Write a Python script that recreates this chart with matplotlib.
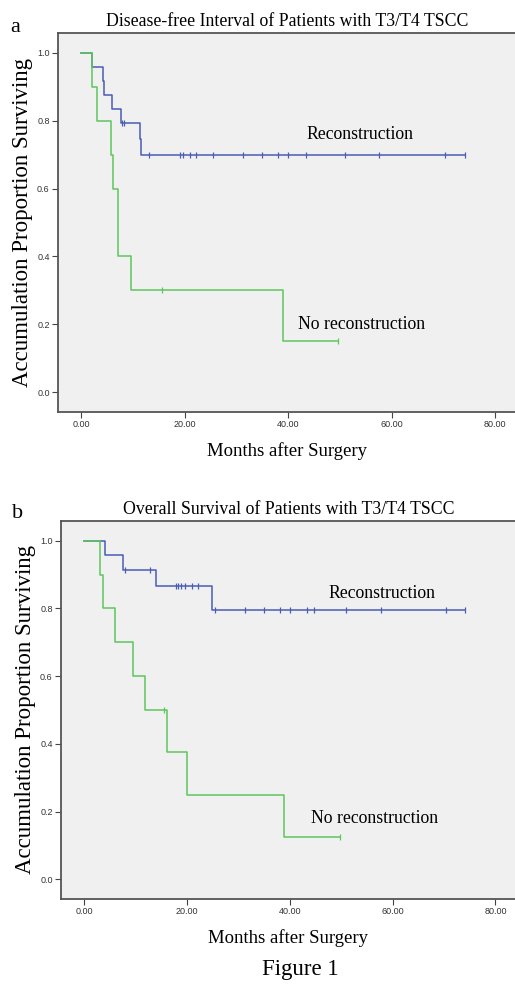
import matplotlib
matplotlib.use("Agg")
import matplotlib.pyplot as plt
import numpy as np

# ---- data (months, proportion surviving) ----
# panel a: disease-free interval
a_rec_times = [0, 2.1, 4.2, 4.4, 6.0, 7.7, 11.4, 11.6]
a_rec_surv = [1.0, 0.958, 0.917, 0.875, 0.833, 0.792, 0.745, 0.699]
a_rec_end = 74.1
a_rec_cens = [7.9, 8.2, 13.0, 19.1, 19.6, 21.0, 22.2, 25.5, 31.2, 34.9,
              38.0, 40.0, 43.4, 50.9, 57.6, 70.3, 74.1]

a_no_times = [0, 2.1, 3.0, 5.7, 6.1, 7.0, 9.6, 38.9]
a_no_surv = [1.0, 0.9, 0.8, 0.7, 0.6, 0.4, 0.3, 0.15]
a_no_end = 49.7
a_no_cens = [15.6, 49.7]

# panel b: overall survival
b_rec_times = [0, 4.1, 7.5, 14.0, 24.8]
b_rec_surv = [1.0, 0.958, 0.913, 0.866, 0.794]
b_rec_end = 74.1
b_rec_cens = [7.9, 12.9, 17.9, 18.2, 18.8, 19.7, 20.9, 22.2, 25.4, 31.2,
              35.0, 38.0, 40.0, 43.4, 44.7, 51.0, 57.7, 70.3, 74.1]

b_no_times = [0, 3.0, 3.7, 6.1, 9.6, 11.9, 16.1, 20.1, 38.8]
b_no_surv = [1.0, 0.9, 0.8, 0.7, 0.6, 0.5, 0.375, 0.25, 0.125]
b_no_end = 49.7
b_no_cens = [15.6, 49.7]

x_ticks = [0, 20, 40, 60, 80]
y_ticks = [0.0, 0.2, 0.4, 0.6, 0.8, 1.0]

BLUE = '#4a5db3'
GREEN = '#5cc75c'
SERIF = ['Liberation Serif', 'DejaVu Serif']
SANS = ['Liberation Sans', 'DejaVu Sans']

W, H = 515, 984
fig = plt.figure(figsize=(W / 100, H / 100), dpi=100)


def km_curve(ax, times, surv, end, cens, color):
    t = list(times) + [end]
    s = list(surv) + [surv[-1]]
    ax.step(t, s, where='post', color=color, lw=1.1)
    idx = np.searchsorted(times, cens, side='right') - 1
    ax.plot(cens, np.array(surv)[idx], ls='none', marker='|', ms=4.5,
            mew=0.9, color=color)


def panel(rect, title, rec, no, rec_xy, no_xy):
    ax = fig.add_axes(rect)
    ax.set_facecolor('#f0f0f0')
    km_curve(ax, *rec, BLUE)
    km_curve(ax, *no, GREEN)
    ax.set_xlim(-4.5, 84)
    ax.set_ylim(-0.058, 1.058)
    ax.set_xticks(x_ticks)
    ax.set_xticklabels(['%.2f' % v for v in x_ticks], family=SANS, fontsize=6.5)
    ax.set_yticks(y_ticks)
    ax.set_yticklabels(['%.1f' % v for v in y_ticks], family=SANS, fontsize=6.5)
    ax.tick_params(direction='out', length=4, width=0.8, color='#444444',
                   labelcolor='#333333', pad=2)
    for sp in ax.spines.values():
        sp.set_color('#555555')
        sp.set_linewidth(1.3)
    ax.set_title(title, family=SERIF, fontsize=12.8, pad=5)
    ax.set_xlabel('Months after Surgery', family=SERIF, fontsize=13.5, labelpad=9)
    ax.set_ylabel('Accumulation Proportion Surviving', family=SERIF,
                  fontsize=16.5, labelpad=3)
    ax.text(rec_xy[0], rec_xy[1], 'Reconstruction', family=SERIF, fontsize=12.8,
            va='center')
    ax.text(no_xy[0], no_xy[1], 'No reconstruction', family=SERIF, fontsize=12.8,
            va='center')
    return ax


def px_rect(left, top, right, bottom):
    return [left / W, 1 - bottom / H, (right - left) / W, (bottom - top) / H]


panel(px_rect(58, 33, 516, 412),
      'Disease-free Interval of Patients with T3/T4 TSCC',
      (a_rec_times, a_rec_surv, a_rec_end, a_rec_cens),
      (a_no_times, a_no_surv, a_no_end, a_no_cens),
      (43.6, 0.758), (41.9, 0.20))

panel(px_rect(61, 521, 516, 899),
      'Overall Survival of Patients with T3/T4 TSCC',
      (b_rec_times, b_rec_surv, b_rec_end, b_rec_cens),
      (b_no_times, b_no_surv, b_no_end, b_no_cens),
      (47.5, 0.845), (44.1, 0.181))

fig.text(10 / W, 1 - 27 / H, 'a', family=SERIF, fontsize=16, va='center')
fig.text(12 / W, 1 - 514 / H, 'b', family=SERIF, fontsize=16, va='center')
fig.text(300 / W, 1 - 969 / H, 'Figure 1', family=SERIF, fontsize=16.5,
         ha='center', va='center')

fig.savefig('out.png', dpi=100)
